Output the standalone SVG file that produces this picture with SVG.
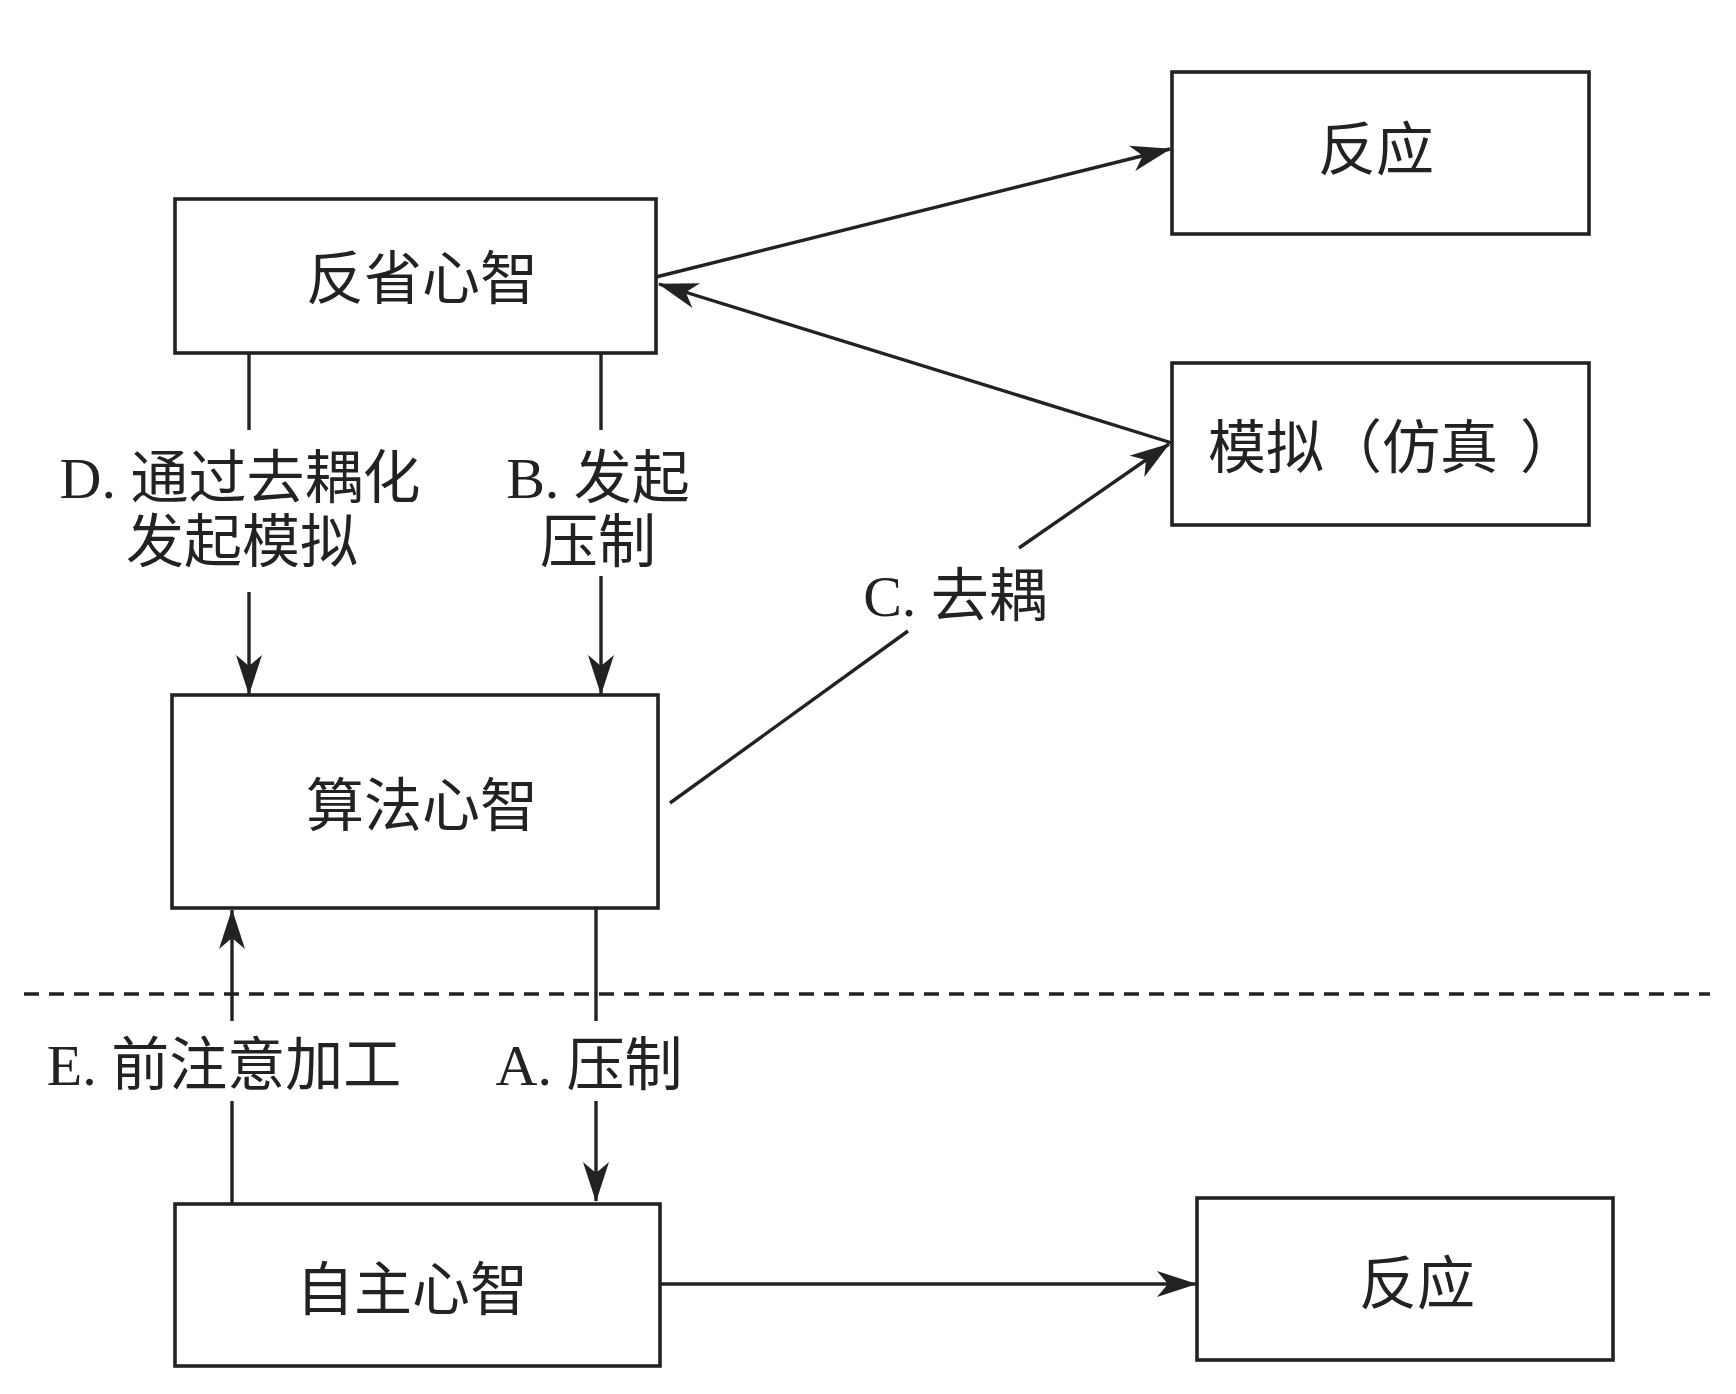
<svg xmlns="http://www.w3.org/2000/svg" width="1736" height="1394" viewBox="0 0 1736 1394">
<style>
.box{fill:#fff;stroke:#222;stroke-width:3.6}
.ln{fill:none;stroke:#222;stroke-width:3.4}
.t{font-family:"Liberation Serif","Noto Sans CJK SC",serif;font-size:58px;fill:#222;text-anchor:middle;dominant-baseline:central}
</style>
<defs>
<marker id="a" viewBox="0 0 40 26" refX="39" refY="13" markerWidth="40" markerHeight="26" markerUnits="userSpaceOnUse" orient="auto">
<path d="M0,0 L40,13 L0,26 L11,13 z" fill="#222"/>
</marker>
</defs>
<rect width="1736" height="1394" fill="#fff"/>
<g id="connectors">
<path class="ln" d="M656,277 L1170,149" marker-end="url(#a)"/>
<path class="ln" d="M1172,443 L659,284" marker-end="url(#a)"/>
<path class="ln" d="M670,803 L908,631"/>
<path class="ln" d="M1019,548 L1169,444" marker-end="url(#a)"/>
<path class="ln" d="M249,353 L249,430"/>
<path class="ln" d="M249,592 L249,694" marker-end="url(#a)"/>
<path class="ln" d="M601,353 L601,430"/>
<path class="ln" d="M601,576 L601,694" marker-end="url(#a)"/>
<path class="ln" d="M232,1204 L232,1101"/>
<path class="ln" d="M232,1021 L232,910" marker-end="url(#a)"/>
<path class="ln" d="M596,908 L596,1021"/>
<path class="ln" d="M596,1101 L596,1201" marker-end="url(#a)"/>
<path class="ln" d="M660,1284 L1196,1284" marker-end="url(#a)"/>
<path class="ln" d="M24,994 L1710,994" stroke-dasharray="15 10"/>
<text class="t" x="240" y="478">D. 通过去耦化</text>
<text class="t" x="242" y="542">发起模拟</text>
<text class="t" x="598" y="478">B. 发起</text>
<text class="t" x="598" y="542">压制</text>
<text class="t" x="955" y="596">C. 去耦</text>
<text class="t" x="224" y="1065">E. 前注意加工</text>
<text class="t" x="589" y="1065">A. 压制</text>
</g>
<g id="n-fanxing"><rect class="box" x="175" y="199" width="481" height="154"/><text class="t" x="422" y="279">反省心智</text></g>
<g id="n-fanying1"><rect class="box" x="1172" y="72" width="417" height="162"/><text class="t" x="1376" y="150">反应</text></g>
<g id="n-moni"><rect class="box" x="1172" y="363" width="417" height="162"/><text class="t" x="1208" y="448" style="text-anchor:start">模拟（仿真<tspan dx="22">）</tspan></text></g>
<g id="n-suanfa"><rect class="box" x="172" y="695" width="486" height="213"/><text class="t" x="422" y="806">算法心智</text></g>
<g id="n-zizhu"><rect class="box" x="175" y="1204" width="485" height="162"/><text class="t" x="412" y="1290">自主心智</text></g>
<g id="n-fanying2"><rect class="box" x="1197" y="1198" width="416" height="162"/><text class="t" x="1417" y="1284">反应</text></g>
</svg>
